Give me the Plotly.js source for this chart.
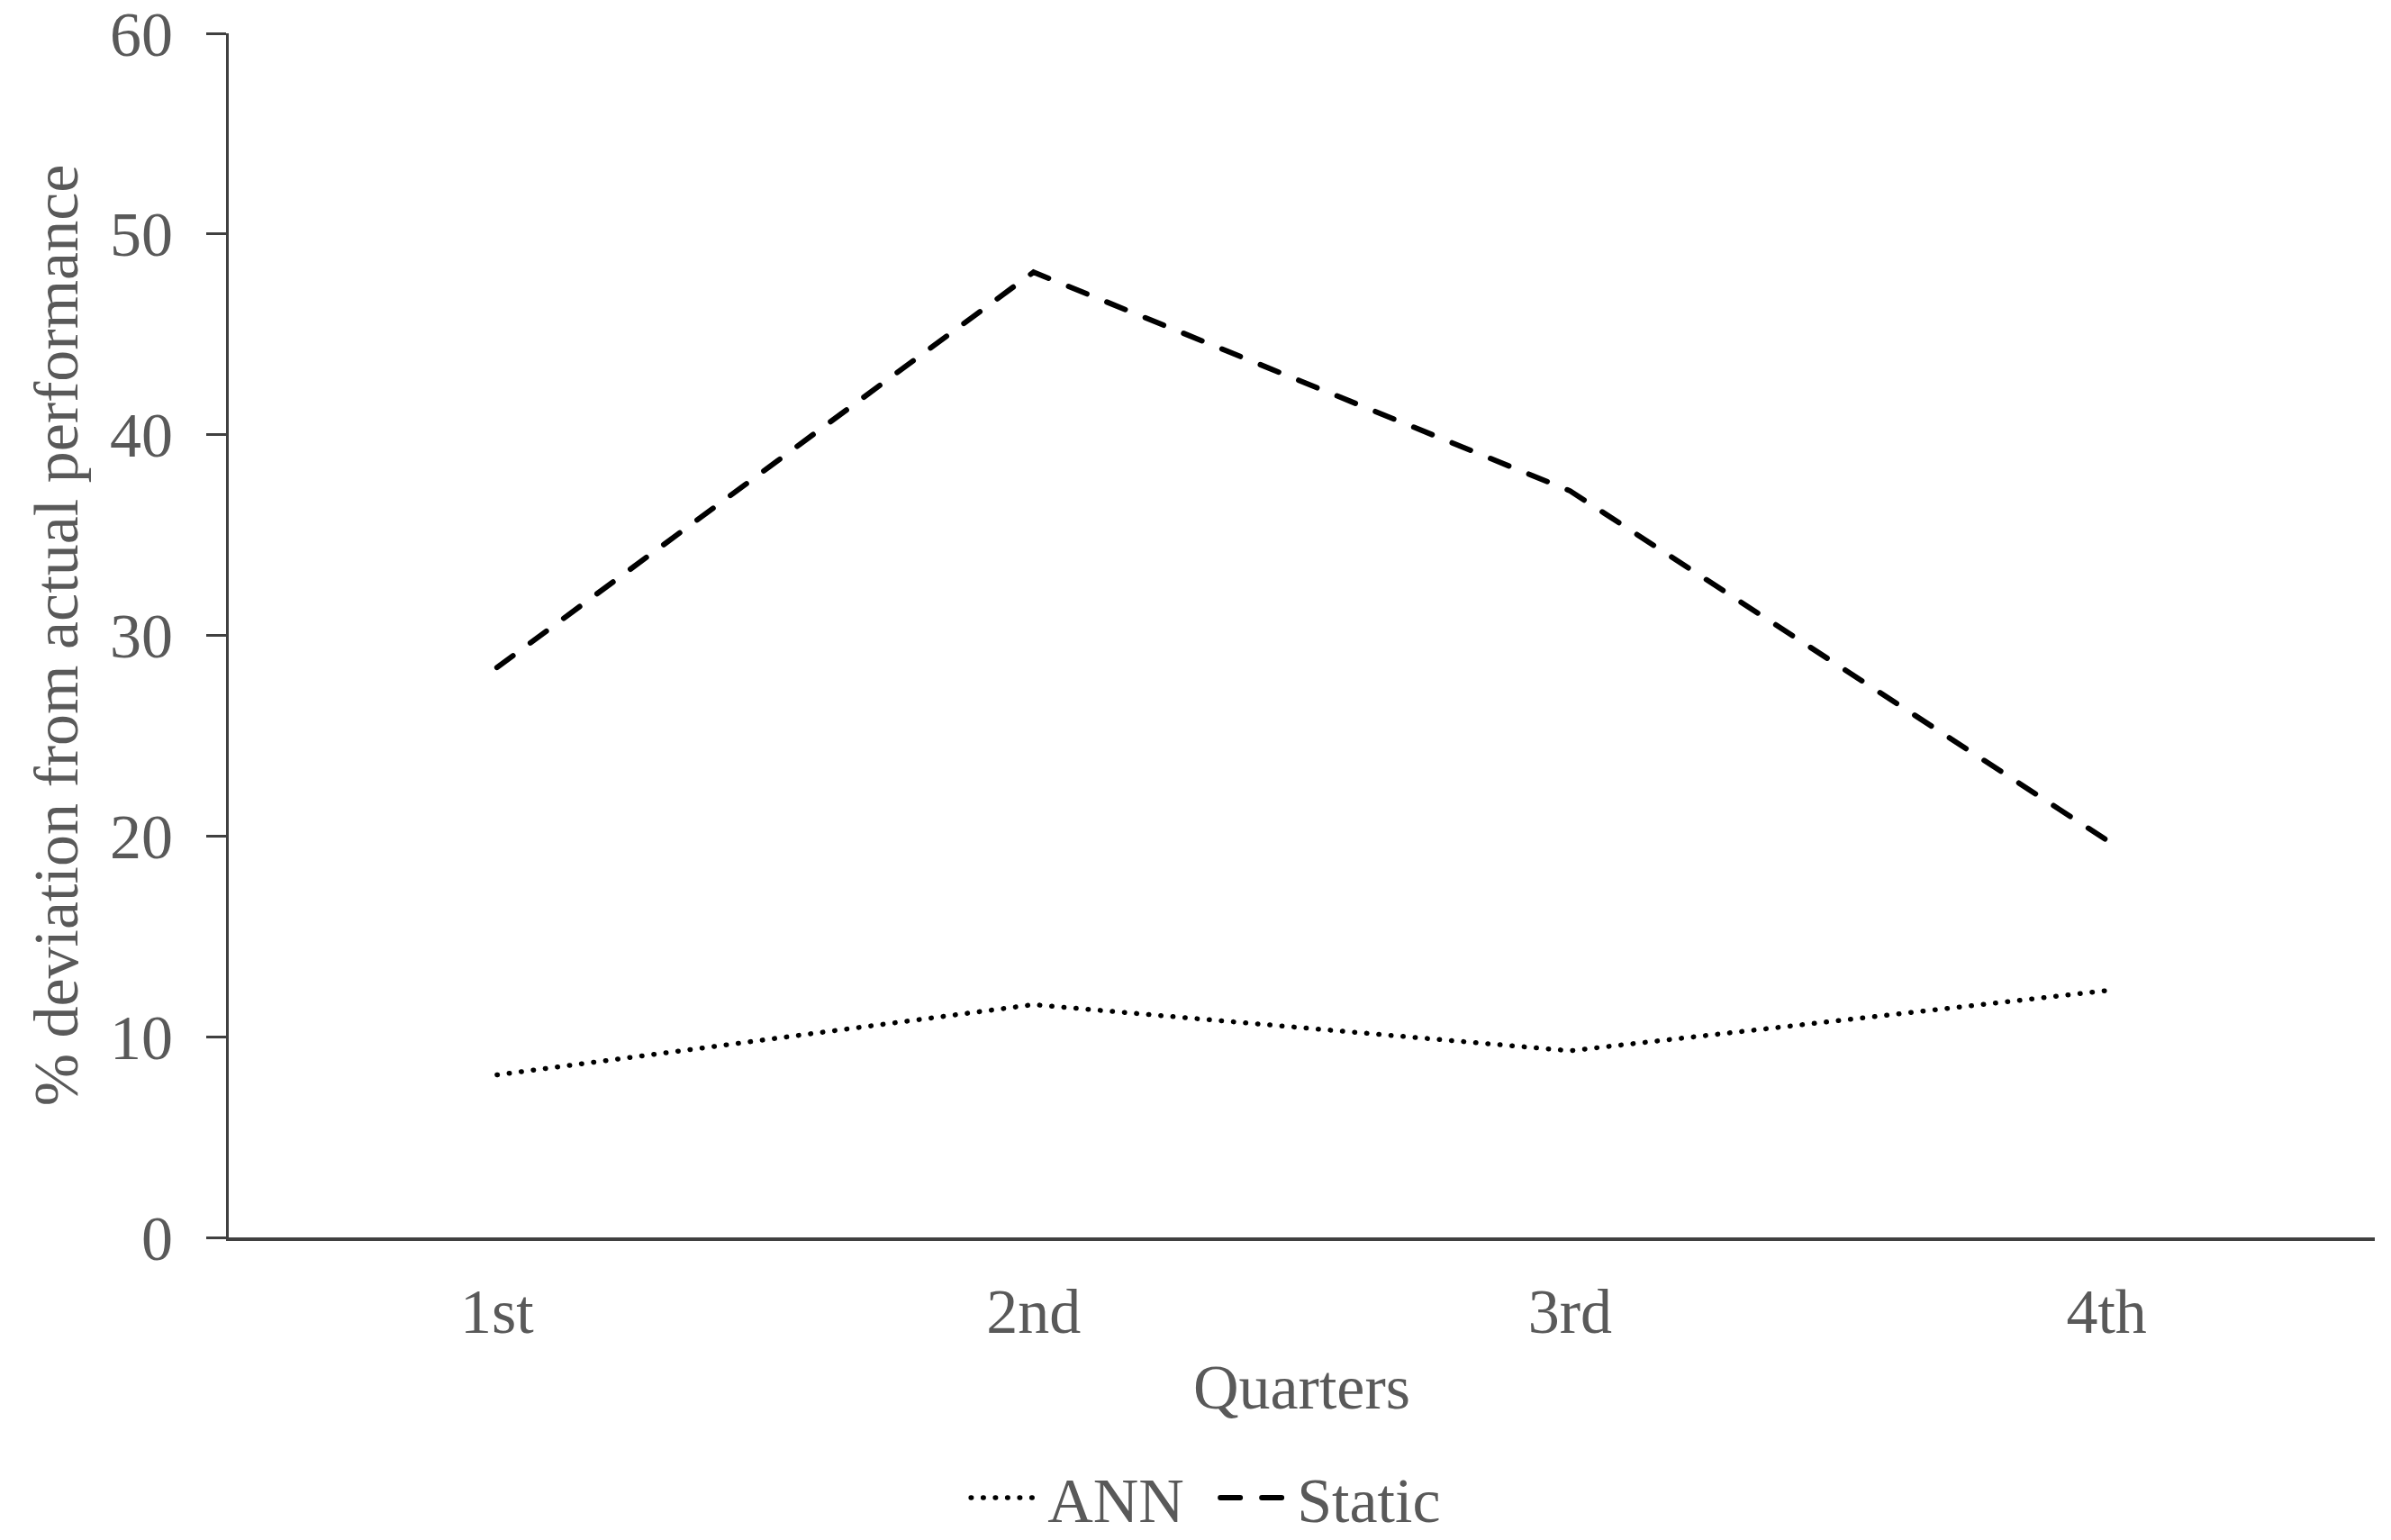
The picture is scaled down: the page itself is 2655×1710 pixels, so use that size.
<!DOCTYPE html>
<html>
<head>
<meta charset="utf-8">
<script src="https://cdn.plot.ly/plotly-3.0.1.min.js"></script>
<style>
  html, body { margin: 0; padding: 0; background: #fff; }
  #chart { width: 2655px; height: 1710px; }
  path.js-line { stroke-linecap: round; }
</style>
</head>
<body>
<div id="chart"></div>
<script>
const quarters = ["1st", "2nd", "3rd", "4th"];
const annValues = [8.1, 11.6, 9.3, 12.3];
const staticValues = [28.4, 48.1, 37.2, 19.8];
const yTicks = [0, 10, 20, 30, 40, 50, 60];

const textColor = "#595959";
const fontFamily = "'Liberation Serif', 'Times New Roman', serif";
const fs = 70;

const traces = [
  {
    x: quarters, y: annValues, name: "ANN", type: "scatter", mode: "lines",
    line: { color: "#000000", width: 5.5, dash: "0.5px,13px" }
  },
  {
    x: quarters, y: staticValues, name: "Static", type: "scatter", mode: "lines",
    line: { color: "#000000", width: 6, dash: "22px,24px" }
  }
];

const layout = {
  width: 2655, height: 1710,
  paper_bgcolor: "#ffffff", plot_bgcolor: "#ffffff",
  margin: { l: 254, r: 18, t: 37, b: 336, autoexpand: false },
  font: { family: fontFamily, color: textColor, size: fs },
  showlegend: true,
  legend: {
    orientation: "h",
    xref: "container", yref: "container",
    x: 0.4042, xanchor: "left", y: 0.0275, yanchor: "middle",
    font: { family: fontFamily, color: textColor, size: fs },
    itemwidth: 80,
    entrywidth: 182, entrywidthmode: "pixels",
    bgcolor: "rgba(0,0,0,0)"
  },
  xaxis: {
    type: "category", range: [-0.5, 3.5], automargin: false,
    showline: true, linecolor: "#404040", linewidth: 3.5,
    ticks: "", showgrid: false, zeroline: false,
    tickfont: { family: fontFamily, color: textColor, size: fs },
    ticklabelstandoff: 18,
    title: { text: "Quarters", font: { family: fontFamily, color: textColor, size: fs }, standoff: 22 }
  },
  yaxis: {
    range: [0, 60], tickvals: yTicks, ticktext: yTicks.map(String), automargin: false,
    ticklabeloverflow: "allow",
    showline: true, linecolor: "#404040", linewidth: 3,
    ticks: "outside", ticklen: 22, tickwidth: 3, tickcolor: "#404040",
    showgrid: false, zeroline: false,
    tickfont: { family: fontFamily, color: textColor, size: fs },
    ticklabelstandoff: 23,
    title: { text: "% deviation from actual performance", font: { family: fontFamily, color: textColor, size: fs }, standoff: 13 }
  }
};

Plotly.newPlot("chart", traces, layout, { displayModeBar: false, staticPlot: true }).then(function (gd) {
  gd.querySelectorAll(".legend .legendlines path").forEach(function (p) {
    p.setAttribute("d", "M5,0h74");
  });
});
</script>
</body>
</html>
